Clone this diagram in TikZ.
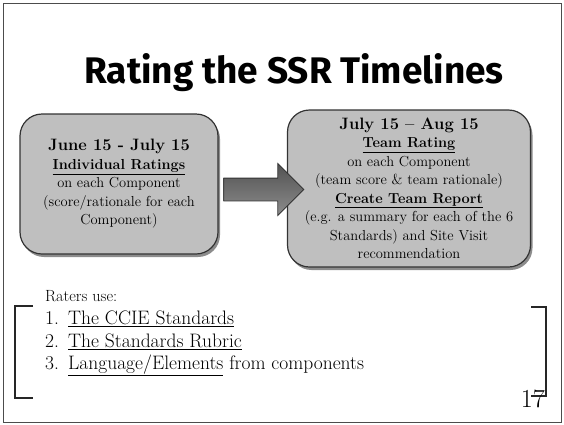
\documentclass[tikz,border=0pt]{standalone}
\usepackage{fontspec}
\newfontfamily\titlefont{Fira Sans}
\usetikzlibrary{shapes.arrows,shadows}
\definecolor{boxgray}{HTML}{BFBFBF}
\definecolor{edgegray}{HTML}{333333}
\tikzset{
  frame/.style={draw=black!70, line width=1pt},
  stagebox/.style={draw=edgegray, line width=1.2pt, fill=boxgray, rounded corners=22pt,
    drop shadow={shadow xshift=2pt, shadow yshift=-3pt, opacity=0.45, fill=black},
    align=center, inner sep=0pt, font=\fontsize{14.5}{18.5}\selectfont},
  bigarrow/.style={single arrow, draw=edgegray, line width=0.8pt, top color=black!68, bottom color=black!45,
    single arrow head extend=14.5pt, single arrow tip angle=90, inner xsep=0pt, inner ysep=11pt,
    minimum height=80pt},
  bracket/.style={draw=black!85, line width=1.2pt},
  listtext/.style={anchor=base west, inner sep=0pt, font=\fontsize{19.5}{22}\selectfont},
}
\begin{document}
\begin{tikzpicture}[x=1pt,y=-1pt]
\useasboundingbox (0,0) rectangle (564,424);
\draw[frame] (3,3) rectangle (561,422);
\node[anchor=base, inner sep=0pt, font=\titlefont\bfseries\fontsize{37}{40}\selectfont] (title) at (294,83) {Rating the SSR Timelines};

\node[stagebox, minimum width=198pt, minimum height=140pt] (left) at (119,184)
  {{\bfseries\fontsize{16.5}{18.5}\selectfont June 15 - July 15}\\
   \textbf{\underline{Individual Ratings}}\\
   on each Component\\
   (score/rationale for each\\
   Component)};

\node[stagebox, minimum width=243pt, minimum height=157pt] (right) at (409,188.5)
  {{\bfseries\fontsize{16.5}{18.5}\selectfont July 15 -- Aug 15}\\
   \textbf{\underline{Team Rating}}\\
   on each Component\\
   (team score \& team rationale)\\
   \textbf{\underline{Create Team Report}}\\
   (e.g. a summary for each of the 6\\
   Standards) and Site Visit\\
   recommendation};

\node[bigarrow] (arr) at (258,189.5) {};

\draw[bracket] (33,306) -- (15,306) -- (15,398) -- (33,398);
\draw[bracket] (531,307) -- (546,307) -- (546,396) -- (531,396);

\node[listtext, font=\fontsize{16.2}{18}\selectfont] (raters) at (45,301) {Raters use:};
\node[listtext] (n1) at (45,324) {1.};
\node[listtext] (i1) at (68,324) {\underline{The CCIE Standards}};
\node[listtext] (n2) at (45,347) {2.};
\node[listtext] (i2) at (68,347) {\underline{The Standards Rubric}};
\node[listtext] (n3) at (45,369) {3.};
\node[listtext] (i3) at (68,369) {\underline{Language/Elements} from components};

\node[anchor=base east, inner sep=0pt, font=\fontsize{26}{28}\selectfont] (page) at (545,407) {17};
\end{tikzpicture}
\end{document}
